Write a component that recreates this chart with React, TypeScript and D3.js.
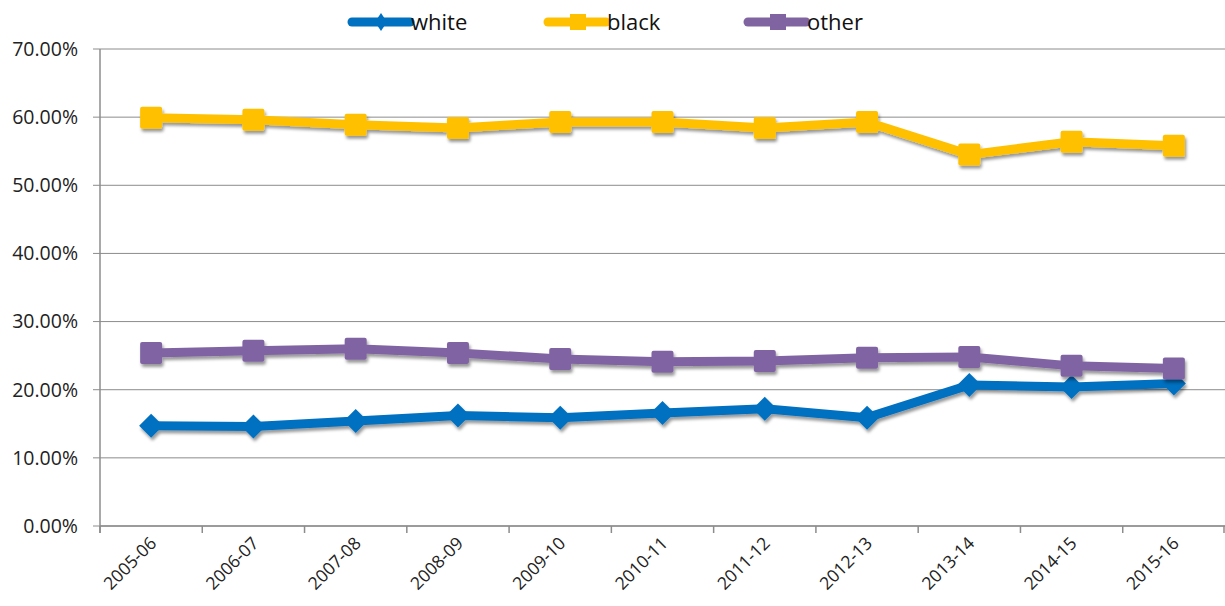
import React from 'react';
import * as d3 from 'd3';

const years = ['2005-06', '2006-07', '2007-08', '2008-09', '2009-10', '2010-11', '2011-12', '2012-13', '2013-14', '2014-15', '2015-16'];
const whiteVals = [14.7, 14.6, 15.4, 16.2, 15.9, 16.6, 17.2, 15.9, 20.7, 20.4, 20.9];
const blackVals = [59.9, 59.6, 58.9, 58.4, 59.3, 59.3, 58.4, 59.3, 54.5, 56.4, 55.8];
const otherVals = [25.4, 25.7, 26.0, 25.4, 24.5, 24.1, 24.2, 24.7, 24.8, 23.5, 23.1];
const yTicks = [0, 10, 20, 30, 40, 50, 60, 70];

const series = [
  { name: 'white', values: whiteVals, color: '#0070C0', marker: 'diamond' },
  { name: 'black', values: blackVals, color: '#FFC000', marker: 'square' },
  { name: 'other', values: otherVals, color: '#8064A2', marker: 'square' },
];

const W = 1225;
const H = 606;
const margin = { top: 49, right: 0, bottom: 80, left: 100 };
const axisColor = '#8c8c8c';
const font = '"Open Sans", sans-serif';

function Marker({ kind, x, y, color }: { kind: string; x: number; y: number; color: string }) {
  if (kind === 'diamond') {
    const s = 12;
    return <path d={`M${x},${y - s}L${x + s},${y}L${x},${y + s}L${x - s},${y}Z`} fill={color} />;
  }
  const s = 11;
  return <rect x={x - s} y={y - s} width={s * 2} height={s * 2} rx={2} fill={color} />;
}

export default function App() {
  const x = d3.scaleBand().domain(years).range([margin.left, W - margin.right]);
  const y = d3.scaleLinear().domain([0, 70]).range([H - margin.bottom, margin.top]);
  const line = d3.line<number>()
    .x((_, i) => (x(years[i]) as number) + x.bandwidth() / 2)
    .y(d => y(d));
  const fmt = (v: number) => v.toFixed(2) + '%';
  const tickEdges = years.map(yr => x(yr) as number).concat([W - margin.right - 1]);
  const legendPos = [352, 548, 748];

  return (
    <svg width={W} height={H} style={{ position: 'absolute', left: 0, top: 0, background: '#fff' }} fontFamily={font}>
      <defs>
        <filter id="shadow" x="-20%" y="-20%" width="140%" height="160%">
          <feDropShadow dx="1.5" dy="3" stdDeviation="1.8" floodColor="#000" floodOpacity="0.4" />
        </filter>
      </defs>

      {/* gridlines and y ticks */}
      {yTicks.map(t => (
        <g key={t}>
          <line x1={margin.left} x2={W - margin.right} y1={y(t)} y2={y(t)} stroke={axisColor} strokeWidth={1} />
          <line x1={margin.left - 7} x2={margin.left} y1={y(t)} y2={y(t)} stroke={axisColor} strokeWidth={1} />
          <text x={78} y={y(t)} dy="0.35em" textAnchor="end" fontSize={19.5} fill="#222">{fmt(t)}</text>
        </g>
      ))}
      <line x1={margin.left} x2={margin.left} y1={y(70)} y2={y(0) + 7} stroke={axisColor} strokeWidth={1.5} />
      <line x1={margin.left} x2={W - margin.right} y1={y(0)} y2={y(0)} stroke={axisColor} strokeWidth={1.5} />
      {tickEdges.map((tx, i) => (
        <line key={i} x1={tx} x2={tx} y1={y(0)} y2={y(0) + 7} stroke={axisColor} strokeWidth={1.5} />
      ))}

      {/* x labels */}
      {years.map(yr => {
        const cx = (x(yr) as number) + x.bandwidth() / 2 + 2;
        const cy = y(0) + 14;
        return (
          <text key={yr} x={cx} y={cy} textAnchor="end" fontSize={17.5} fill="#222"
            transform={`rotate(-45, ${cx}, ${cy})`} dy="0.35em">{yr}</text>
        );
      })}

      {/* series */}
      {series.map(s => (
        <g key={s.name} filter="url(#shadow)">
          <path d={line(s.values) || ''} fill="none" stroke={s.color} strokeWidth={9} strokeLinejoin="round" />
          {s.values.map((v, i) => (
            <Marker key={i} kind={s.marker} x={(x(years[i]) as number) + x.bandwidth() / 2} y={y(v)} color={s.color} />
          ))}
        </g>
      ))}

      {/* legend */}
      {series.map((s, i) => {
        const lx = legendPos[i];
        const ly = 22;
        return (
          <g key={s.name}>
            <line x1={lx} x2={lx + 58} y1={ly} y2={ly} stroke={s.color} strokeWidth={9} strokeLinecap="round" />
            {s.marker === 'diamond'
              ? <path d={`M${lx + 29},${ly - 9}L${lx + 35},${ly}L${lx + 29},${ly + 9}L${lx + 23},${ly}Z`} fill={s.color} />
              : <rect x={lx + 22} y={ly - 8} width={16} height={16} fill={s.color} />}
            <text x={lx + 59} y={ly} dy="0.35em" fontSize={22} fill="#111">{s.name}</text>
          </g>
        );
      })}
    </svg>
  );
}
